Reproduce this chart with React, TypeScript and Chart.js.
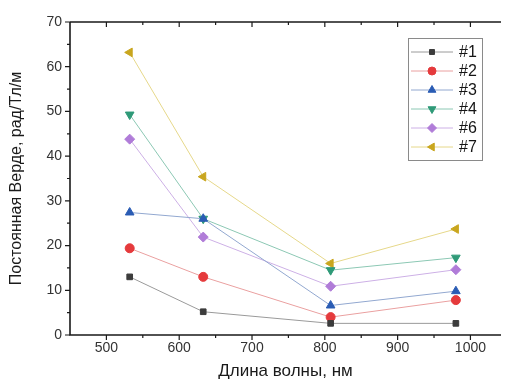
import React, { useEffect, useRef } from 'react';
import { Chart, registerables } from 'chart.js';
import { drawPoint } from 'chart.js/helpers';

Chart.register(...registerables);

// ---- data ----
const wavelengths = [532, 633, 808, 980];
const seriesNames = ['#1', '#2', '#3', '#4', '#6', '#7'];
const s1 = [13.0, 5.2, 2.6, 2.6];
const s2 = [19.4, 13.0, 4.0, 7.8];
const s3 = [27.4, 26.0, 6.6, 9.8];
const s4 = [49.3, 26.0, 14.5, 17.3];
const s6 = [43.8, 21.9, 10.9, 14.6];
const s7 = [63.2, 35.4, 16.0, 23.7];
const seriesValues = [s1, s2, s3, s4, s6, s7];

const xTitle = 'Длина волны, нм';
const yTitle = 'Постоянная Верде, рад/Тл/м';

// ---- styles ----
const markerColors = ['#3c3c3c', '#e53a3c', '#2a5cb4', '#2f9a78', '#b07cd8', '#c9a61e'];
const lineColors = ['#9a9a9a', '#eaa0a0', '#92a8d0', '#8cc8b4', '#cdb0e6', '#e6d88a'];
const pointStyles: any[] = ['rect', 'circle', 'triangle', 'triangle', 'rectRot', 'triangle'];
const rotations = [0, 0, 0, 180, 0, 270];
const radii = [4, 4.5, 5, 5, 5, 5];
const legendRadii = [3.5, 4, 4.5, 4.5, 4.5, 4.5];

const FONT = '"Liberation Sans", Arial, sans-serif';

const framePlugin = {
  id: 'frame',
  afterDraw(chart: any) {
    const { ctx, chartArea: a, scales } = chart;
    const xs = scales.x;
    const ys = scales.y;
    ctx.save();
    ctx.strokeStyle = '#1a1a1a';
    ctx.lineWidth = 1.6;
    ctx.beginPath();
    ctx.moveTo(a.left, a.top);
    ctx.lineTo(a.left, a.bottom);
    ctx.lineTo(a.right, a.bottom);
    ctx.moveTo(a.left, a.top);
    ctx.lineTo(a.right, a.top);
    ctx.stroke();

    ctx.lineWidth = 1.2;
    ctx.beginPath();
    xs.ticks.forEach((t: any) => {
      const px = xs.getPixelForValue(t.value);
      if (px <= a.left + 1) return;
      const len = t.value % 100 === 0 ? 5 : 3;
      ctx.moveTo(px, a.bottom);
      ctx.lineTo(px, a.bottom + len);
      ctx.moveTo(px, a.top);
      ctx.lineTo(px, a.top + len);
    });
    ys.ticks.forEach((t: any) => {
      const py = ys.getPixelForValue(t.value);
      const len = t.value % 10 === 0 ? 5 : 3;
      ctx.moveTo(a.left, py);
      ctx.lineTo(a.left - len, py);
    });
    ctx.stroke();

    // legend
    const bx = 408, by = 38, bw = 74, bh = 122;
    ctx.fillStyle = '#ffffff';
    ctx.fillRect(bx, by, bw, bh);
    ctx.strokeStyle = '#8a8a8a';
    ctx.lineWidth = 1;
    ctx.strokeRect(bx + 0.5, by + 0.5, bw, bh);
    chart.data.datasets.forEach((ds: any, i: number) => {
      const ry = by + 14 + i * 19;
      ctx.strokeStyle = ds.borderColor;
      ctx.lineWidth = 1;
      ctx.beginPath();
      ctx.moveTo(bx + 3, ry);
      ctx.lineTo(bx + 45, ry);
      ctx.stroke();
      ctx.fillStyle = ds.pointBackgroundColor;
      ctx.strokeStyle = ds.pointBorderColor;
      drawPoint(ctx, {
        pointStyle: ds.pointStyle,
        rotation: ds.pointRotation,
        radius: legendRadii[i],
        borderWidth: 1,
      } as any, bx + 24, ry);
      ctx.fillStyle = '#151515';
      ctx.font = `16px ${FONT}`;
      ctx.textBaseline = 'middle';
      ctx.textAlign = 'left';
      ctx.fillText(ds.label, bx + 51, ry + 1);
    });
    ctx.restore();
  },
};

export default function App() {
  const ref = useRef<HTMLCanvasElement | null>(null);

  useEffect(() => {
    if (!ref.current) return;
    const datasets = seriesNames.map((name, i) => ({
      label: name,
      data: wavelengths.map((w, j) => ({ x: w, y: seriesValues[i][j] })),
      borderColor: lineColors[i],
      borderWidth: 1,
      pointStyle: pointStyles[i],
      pointRotation: rotations[i],
      pointRadius: radii[i],
      pointBackgroundColor: markerColors[i],
      pointBorderColor: markerColors[i],
      pointBorderWidth: 1,
      tension: 0,
      fill: false,
    }));

    const chart = new Chart(ref.current, {
      type: 'line',
      data: { datasets },
      options: {
        responsive: false,
        animation: false,
        maintainAspectRatio: false,
        layout: { padding: { top: 22, right: 0, left: 0, bottom: 0 } },
        plugins: { legend: { display: false }, tooltip: { enabled: false } },
        scales: {
          x: {
            type: 'linear',
            min: 450,
            max: 1042,
            grid: { display: false, drawTicks: false },
            border: { display: false },
            ticks: {
              stepSize: 50,
              includeBounds: false,
              autoSkip: false,
              maxRotation: 0,
              padding: 5,
              color: '#333',
              font: { family: FONT, size: 14 },
              callback: (v: any) => (v % 100 === 0 && v >= 500 && v <= 1000 ? String(v) : ''),
            },
            title: {
              display: true,
              text: xTitle,
              color: '#1a1a1a',
              font: { family: FONT, size: 17, lineHeight: 1 },
              padding: { top: 0, bottom: 0 },
            },
            afterFit: (s: any) => { s.height = 45; },
          },
          y: {
            type: 'linear',
            min: 0,
            max: 70,
            grid: { display: false, drawTicks: false },
            border: { display: false },
            ticks: {
              stepSize: 5,
              autoSkip: false,
              padding: 8,
              color: '#333',
              font: { family: FONT, size: 14 },
              callback: (v: any) => (v % 10 === 0 ? String(v) : ''),
            },
            title: {
              display: true,
              text: yTitle,
              color: '#1a1a1a',
              font: { family: FONT, size: 16, lineHeight: 1 },
              padding: { top: 9, bottom: 0 },
            },
            afterFit: (s: any) => { s.width = 70; },
          },
        },
      },
      plugins: [framePlugin],
    });
    return () => chart.destroy();
  }, []);

  return (
    <div style={{ position: 'fixed', left: 0, top: 0, width: 507, height: 380, background: '#fff' }}>
      <canvas ref={ref} width={507} height={380} style={{ width: 507, height: 380, display: 'block' }} />
    </div>
  );
}
